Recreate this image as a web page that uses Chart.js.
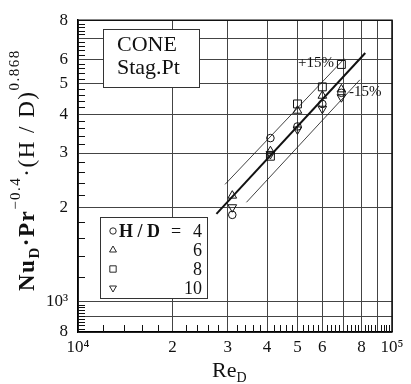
<!DOCTYPE html>
<html>
<head>
<meta charset="utf-8">
<script src="https://cdn.jsdelivr.net/npm/chart.js@4.4.1/dist/chart.umd.min.js"></script>
<style>
  html, body { margin: 0; padding: 0; background: #fff; }
  canvas { display: block; }
</style>
</head>
<body>
<canvas id="nuChart" width="411" height="384" style="width:411px;height:384px"></canvas>
<script>
// Re_D of the five measurement groups
const reValues = [31000, 41000, 50000, 60000, 69000];
// Nu_D Pr^-0.4 (H/D)^0.868 for every H/D
const hdRatios = [4, 6, 8, 10];
const hd4  = [1900, 3350, 3650, 4310, 4680];
const hd6  = [2190, 3040, 4100, 4580, 4800];
const hd8  = [null, 2930, 4310, 4890, 5770];
const hd10 = [2010, 2980, 3570, 4160, 4530];

// correlation line and the +/-15% band, end points
const fitRe   = [27600, 82200];
const fitNu   = [1914, 6280];
const upperRe = [29400, 70500];
const upperNu = [2380, 6020];
const lowerRe = [34400, 79000];
const lowerNu = [2085, 5150];

// axis ticks
const xTicks  = [10000, 20000, 30000, 40000, 50000, 60000, 70000, 80000, 90000, 100000];
const xLabels = ['10\u2074', '2', '3', '4', '5', '6', '', '8', '', '10\u2075'];
const yTicks  = [800, 900, 1000, 2000, 3000, 4000, 5000, 6000, 7000, 8000];
const yLabels = ['8', '', '10\u00b3', '2', '3', '4', '5', '6', '', '8'];

// small inside ticks (no grid line)
const xMinor = [];
for (let v = 12000; v < 100000; v += 2000) if (v % 10000) xMinor.push(v);
const yMinor = [];
for (let v = 820; v < 1000; v += 20) yMinor.push(v);
for (let v = 1200; v < 8000; v += 200) if (v % 1000) yMinor.push(v);

const SERIF = "'Liberation Serif', 'Times New Roman', serif";
const INK = '#111';

function pts(xs, ys) {
    return xs.map((x, i) => ({ x: x, y: ys[i] })).filter(p => p.y != null);
}

function markerSet(label, values, style, radius, rotation) {
    return {
        label: label,
        data: pts(reValues, values),
        showLine: false,
        pointStyle: style,
        pointRadius: radius,
        rotation: rotation || 0,
        pointBorderWidth: 1,
        borderColor: INK,
        backgroundColor: 'rgba(0,0,0,0)'
    };
}

function lineSet(xs, ys, width) {
    return {
        data: pts(xs, ys),
        showLine: true,
        pointRadius: 0,
        borderWidth: width,
        borderColor: INK,
        backgroundColor: 'rgba(0,0,0,0)'
    };
}

// draw a row of text pieces with sub/superscripts, left to right,
// gap = extra space after each character
function richText(ctx, parts, x, y, gap) {
    let cx = x;
    parts.forEach(p => {
        ctx.font = (p.b ? 'bold ' : '') + p.s + 'px ' + SERIF;
        for (const ch of p.t) {
            ctx.fillText(ch, cx, y + (p.dy || 0));
            cx += ctx.measureText(ch).width + (gap || 0);
        }
    });
    return cx - x;
}

const decor = {
    id: 'decor',
    afterDatasetsDraw(chart) {
        const ctx = chart.ctx;
        const a = chart.chartArea;
        const xs = chart.scales.x, ys = chart.scales.y;
        ctx.save();
        ctx.fillStyle = INK;
        ctx.strokeStyle = INK;

        // top / right frame
        ctx.lineWidth = 1.5;
        ctx.beginPath();
        ctx.moveTo(a.left, a.top);
        ctx.lineTo(a.right, a.top);
        ctx.lineTo(a.right, a.bottom);
        ctx.stroke();

        // inside minor ticks
        ctx.lineWidth = 1;
        ctx.beginPath();
        xMinor.forEach(v => {
            const px = Math.round(xs.getPixelForValue(v)) + 0.5;
            ctx.moveTo(px, a.bottom);
            ctx.lineTo(px, a.bottom - 7);
        });
        yMinor.forEach(v => {
            const py = Math.round(ys.getPixelForValue(v)) + 0.5;
            ctx.moveTo(a.left, py);
            ctx.lineTo(a.left + 7, py);
        });
        ctx.stroke();

        // CONE box
        ctx.fillStyle = '#fff';
        ctx.fillRect(103, 29, 96, 58);
        ctx.strokeStyle = '#333';
        ctx.lineWidth = 1;
        ctx.strokeRect(103.5, 29.5, 96, 58);
        ctx.fillStyle = INK;
        ctx.textAlign = 'left';
        ctx.textBaseline = 'alphabetic';
        ctx.font = '22px ' + SERIF;
        ctx.fillText('CONE', 117, 51);
        ctx.fillText('Stag.Pt', 117, 74);

        // legend box
        ctx.fillStyle = '#fff';
        ctx.fillRect(100, 217, 107, 81);
        ctx.strokeRect(100.5, 217.5, 107, 81);
        const styles = [['circle', 3.2, 0], ['triangle', 4, 0], ['rect', 4.5, 0], ['triangle', 4, 180]];
        hdRatios.forEach((hd, i) => {
            const base = 237 + i * 19;
            ctx.fillStyle = '#fff';
            ctx.strokeStyle = INK;
            ctx.lineWidth = 0.9;
            Chart.helpers.drawPoint(ctx, {
                pointStyle: styles[i][0], radius: styles[i][1], rotation: styles[i][2],
                borderWidth: 0.9
            }, 113, base - 6);
            ctx.fillStyle = INK;
            ctx.textAlign = 'left';
            if (i === 0) {
                ctx.font = 'bold 18px ' + SERIF;
                ctx.fillText('H / D', 119, base);
                ctx.font = '18px ' + SERIF;
                ctx.fillText('=', 171, base);
            }
            ctx.font = '18px ' + SERIF;
            ctx.textAlign = 'right';
            ctx.fillText(String(hd), 202, base);
        });

        // band labels
        ctx.textAlign = 'left';
        ctx.font = '15px ' + SERIF;
        ctx.fillText('+15%', 298, 67);
        ctx.fillText('-15%', 349, 96);

        // x title
        richText(ctx, [{ t: 'Re', s: 22 }, { t: 'D', s: 14, dy: 5 }], 212, 377);

        // y title, rotated
        ctx.translate(34, 291);
        ctx.rotate(-Math.PI / 2);
        richText(ctx, [
            { t: 'Nu', s: 23, b: true }, { t: 'D', s: 15, dy: 5, b: true },
            { t: '\u00b7Pr', s: 23, b: true }, { t: '\u22120.4', s: 15, dy: -14 },
            { t: '\u00b7(H / D)', s: 23 }, { t: '0.868', s: 15, dy: -15 }
        ], 0, 0, 1.5);
        ctx.restore();
    }
};

const ctx = document.getElementById('nuChart').getContext('2d');

new Chart(ctx, {
    type: 'scatter',
    data: {
        datasets: [
            markerSet('H / D = 4', hd4, 'circle', 3.8),
            markerSet('6', hd6, 'triangle', 5),
            markerSet('8', hd8, 'rect', 5.6),
            markerSet('10', hd10, 'triangle', 5, 180),
            lineSet(fitRe, fitNu, 2),
            lineSet(upperRe, upperNu, 0.8),
            lineSet(lowerRe, lowerNu, 0.8)
        ]
    },
    options: {
        responsive: false,
        animation: false,
        events: [],
        layout: { padding: { top: 15, right: 19, left: 0, bottom: 0 } },
        plugins: { legend: { display: false }, tooltip: { enabled: false } },
        scales: {
            x: {
                type: 'logarithmic',
                min: 10000,
                max: 100000,
                afterBuildTicks: s => { s.ticks = xTicks.map(v => ({ value: v })); },
                afterFit: s => { s.height = 52; },
                grid: { color: '#444', lineWidth: 1, drawTicks: false },
                border: { display: true, color: '#000', width: 1.5 },
                ticks: {
                    autoSkip: false, maxRotation: 0, padding: 5,
                    color: INK, font: { family: SERIF, size: 17 },
                    callback: v => xLabels[xTicks.indexOf(v)]
                }
            },
            y: {
                type: 'logarithmic',
                min: 800,
                max: 8000,
                afterBuildTicks: s => { s.ticks = yTicks.map(v => ({ value: v })); },
                afterFit: s => { s.width = 78; },
                grid: { color: '#444', lineWidth: 1, drawTicks: false },
                border: { display: true, color: '#000', width: 1.5 },
                ticks: {
                    autoSkip: false, padding: 10,
                    color: INK, font: { family: SERIF, size: 17 },
                    callback: v => yLabels[yTicks.indexOf(v)]
                }
            }
        }
    },
    plugins: [decor]
});
</script>
</body>
</html>
